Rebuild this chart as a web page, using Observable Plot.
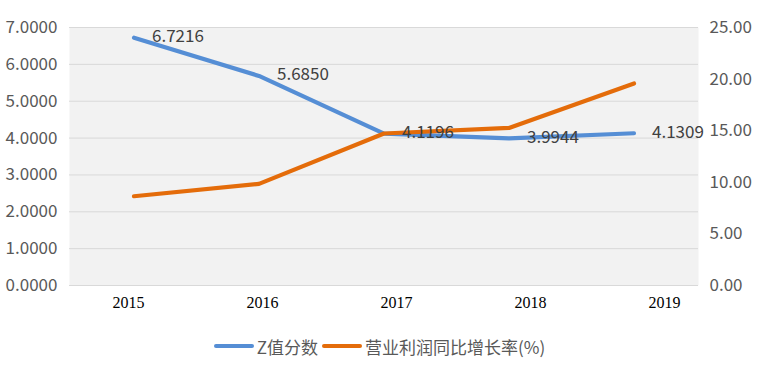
<!DOCTYPE html>
<html>
<head>
<meta charset="utf-8">
<script src="https://cdn.jsdelivr.net/npm/d3@7"></script>
<script src="https://cdn.jsdelivr.net/npm/@observablehq/plot@0.6"></script>
<style>
  html, body { margin: 0; padding: 0; background: #fff; }
  #wrap { position: relative; width: 759px; height: 369px; }
  #main { position: absolute; left: 0; top: 0; }
  #xaxis { position: absolute; left: 0; top: 285px; }
  #legend { position: absolute; left: 0; top: 334px; width: 759px; height: 24px;
    display: flex; justify-content: center; align-items: center;
    font-family: "Noto Sans CJK SC", sans-serif; font-size: 17px; color: #595959; }
  .sw { display: inline-block; width: 40px; height: 4px; border-radius: 2px; margin: 0 3px 0 0; }
  .item { display: flex; align-items: center; margin: 0 2px; }
</style>
</head>
<body>
<div id="wrap">
  <div id="main"></div>
  <div id="xaxis"></div>
  <div id="legend"></div>
</div>
<script>
const years = ["2015", "2016", "2017", "2018", "2019"];
const zScore = [6.7216, 5.6850, 4.1196, 3.9944, 4.1309];
const zLabels = ["6.7216", "5.6850", "4.1196", "3.9944", "4.1309"];
const profitGrowth = [8.65, 9.85, 14.73, 15.27, 19.57];
const leftTicks = [0, 1, 2, 3, 4, 5, 6, 7];
const rightTicks = [0, 5, 10, 15, 20, 25];
const seriesNames = ["Z值分数", "营业利润同比增长率(%)"];
const colors = ["#558ED5", "#E46C0A"];

const leftMax = 7, rightMax = 25;
const toLeft = v => v * leftMax / rightMax;

const zData = years.map((y, i) => ({year: y, v: zScore[i], label: zLabels[i]}));
const pData = years.map((y, i) => ({year: y, v: profitGrowth[i]}));

const font = '"Noto Sans CJK SC", sans-serif';

const main = Plot.plot({
  width: 759,
  height: 320,
  marginLeft: 69,
  marginRight: 61,
  marginTop: 27,
  marginBottom: 35,
  style: {fontFamily: font, overflow: "visible", background: "transparent"},
  x: {type: "band", domain: years, padding: 0, axis: null},
  y: {domain: [0, leftMax], axis: null},
  marks: [
    Plot.frame({fill: "#F2F2F2", stroke: null}),
    Plot.gridY(leftTicks, {stroke: "#D9D9D9", strokeOpacity: 1, strokeWidth: 1}),
    Plot.axisY({anchor: "left", ticks: leftTicks, tickSize: 0, tickPadding: 12,
      tickFormat: d => d.toFixed(4), fontSize: 17, fill: "#595959", label: null}),
    Plot.axisY({anchor: "right", ticks: rightTicks.map(toLeft), tickSize: 0, tickPadding: 11,
      tickFormat: d => (d * rightMax / leftMax).toFixed(2), fontSize: 17, fill: "#595959", label: null}),
    Plot.line(zData, {x: "year", y: "v", stroke: colors[0], strokeWidth: 4.2, strokeLinecap: "round", strokeLinejoin: "round"}),
    Plot.line(pData, {x: "year", y: d => toLeft(d.v), stroke: colors[1], strokeWidth: 4.2, strokeLinecap: "round", strokeLinejoin: "round"}),
    Plot.text(zData, {x: "year", y: "v", text: "label", dx: 18, dy: -1, textAnchor: "start",
      fontSize: 17, fill: "#404040"})
  ]
});
document.getElementById("main").appendChild(main);

const axis = Plot.plot({
  width: 759,
  height: 34,
  marginLeft: 61,
  marginRight: 27.5,
  marginTop: 0,
  marginBottom: 0,
  style: {background: "transparent", overflow: "visible"},
  x: {type: "band", domain: years, padding: 0, axis: null},
  marks: [
    Plot.text(years, {x: d => d, frameAnchor: "middle", fontFamily: '"Liberation Serif", "Times New Roman", serif',
      fontSize: 16, fill: "#000"})
  ]
});
document.getElementById("xaxis").appendChild(axis);

const legend = document.getElementById("legend");
seriesNames.forEach((name, i) => {
  const it = document.createElement("div");
  it.className = "item";
  const sw = document.createElement("span");
  sw.className = "sw";
  sw.style.background = colors[i];
  const t = document.createElement("span");
  t.textContent = name;
  it.appendChild(sw);
  it.appendChild(t);
  legend.appendChild(it);
});
</script>
</body>
</html>
